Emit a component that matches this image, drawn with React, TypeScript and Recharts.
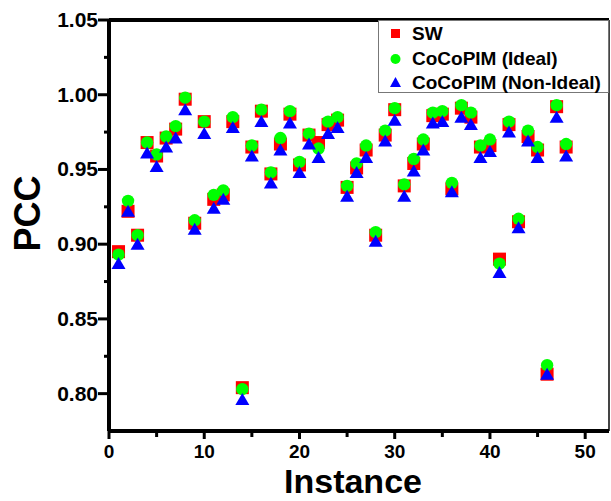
import {
  Legend,
  ReferenceLine,
  Scatter,
  ScatterChart,
  XAxis,
  YAxis,
} from "recharts";

const instances = [
  1, 2, 3, 4, 5, 6, 7, 8, 9, 10, 11, 12, 13, 14, 15, 16, 17, 18, 19, 20, 21, 22,
  23, 24, 25, 26, 27, 28, 29, 30, 31, 32, 33, 34, 35, 36, 37, 38, 39, 40, 41,
  42, 43, 44, 45, 46, 47, 48,
];

const swPcc = [
  0.895, 0.922, 0.906, 0.968, 0.959, 0.971, 0.977, 0.997, 0.914, 0.982, 0.93,
  0.933, 0.982, 0.804, 0.965, 0.989, 0.947, 0.967, 0.987, 0.953, 0.973, 0.968,
  0.98, 0.983, 0.938, 0.951, 0.963, 0.906, 0.973, 0.99, 0.939, 0.954, 0.967,
  0.986, 0.987, 0.937, 0.991, 0.985, 0.965, 0.966, 0.89, 0.98, 0.915, 0.972,
  0.963, 0.813, 0.992, 0.965,
];

const idealPcc = [
  0.893, 0.929, 0.906, 0.968, 0.96, 0.972, 0.979, 0.998, 0.916, 0.982, 0.933,
  0.936, 0.985, 0.803, 0.966, 0.99, 0.948, 0.971, 0.989, 0.955, 0.974, 0.964,
  0.982, 0.985, 0.939, 0.954, 0.966, 0.908, 0.976, 0.991, 0.94, 0.957, 0.97,
  0.988, 0.989, 0.941, 0.993, 0.988, 0.966, 0.97, 0.887, 0.982, 0.917, 0.976,
  0.965, 0.819, 0.993, 0.967,
];

const nonIdealPcc = [
  0.886, 0.921, 0.899, 0.96, 0.951, 0.964, 0.97, 0.989, 0.909, 0.973, 0.923,
  0.929, 0.977, 0.795, 0.958, 0.981, 0.94, 0.962, 0.98, 0.947, 0.966, 0.957,
  0.973, 0.977, 0.931, 0.947, 0.957, 0.901, 0.968, 0.982, 0.931, 0.948, 0.962,
  0.98, 0.981, 0.934, 0.984, 0.979, 0.957, 0.961, 0.88, 0.974, 0.91, 0.968,
  0.957, 0.812, 0.984, 0.958,
];

const xTicks = [0, 5, 10, 15, 20, 25, 30, 35, 40, 45, 50];
const yTicks = [0.8, 0.825, 0.85, 0.875, 0.9, 0.925, 0.95, 0.975, 1.0, 1.025, 1.05];

const FONT = "'Liberation Sans', Arial, sans-serif";

const toPoints = (vals: number[]) =>
  instances.map((x, i) => ({ x, y: vals[i] }));

const swData = toPoints(swPcc);
const idealData = toPoints(idealPcc);
const nonIdealData = toPoints(nonIdealPcc);

const Square = (props: any) => {
  const { cx, cy } = props;
  return <rect x={cx - 6.5} y={cy - 6.5} width={13} height={13} fill="#ff0000" />;
};

const Dot = (props: any) => {
  const { cx, cy } = props;
  return <circle cx={cx} cy={cy} r={6.2} fill="#00ff00" />;
};

const Tri = (props: any) => {
  const { cx, cy } = props;
  return (
    <path
      d={`M${cx},${cy - 8} L${cx + 7},${cy + 4} L${cx - 7},${cy + 4} Z`}
      fill="#0000ff"
    />
  );
};

const isMajor = (v: number) => Math.round(v * 1000) % 50 === 0;

const XTick = (props: any) => {
  const { x, y, payload } = props;
  const v = payload.value;
  const major = v % 10 === 0;
  return (
    <g>
      <line x1={x} y1={y} x2={x} y2={y + (major ? 8 : 6)} stroke="#000" strokeWidth={3} />
      {major && (
        <text
          x={x}
          y={y + 27}
          textAnchor="middle"
          fontFamily={FONT}
          fontWeight="bold"
          fontSize={19}
          fill="#000"
        >
          {v}
        </text>
      )}
    </g>
  );
};

const YTick = (props: any) => {
  const { x, y, payload } = props;
  const v = payload.value;
  const major = isMajor(v);
  return (
    <g>
      <line x1={x} y1={y} x2={x - (major ? 11 : 5)} y2={y} stroke="#000" strokeWidth={3} />
      {major && (
        <text
          x={x - 11}
          y={y + 7}
          textAnchor="end"
          fontFamily={FONT}
          fontWeight="bold"
          fontSize={21}
          fill="#000"
        >
          {v.toFixed(2)}
        </text>
      )}
    </g>
  );
};

const legendItems = [
  { label: "SW", kind: "square", color: "#ff0000" },
  { label: "CoCoPIM (Ideal)", kind: "circle", color: "#00ff00" },
  { label: "CoCoPIM (Non-Ideal)", kind: "triangle", color: "#0000ff" },
];

const renderLegend = () => (
  <div
    style={{
      border: "1.5px solid #777",
      background: "#fff",
      width: 231,
      height: 73,
      boxSizing: "border-box",
      paddingTop: 1,
    }}
  >
    {legendItems.map((it) => (
      <div
        key={it.label}
        style={{
          display: "flex",
          alignItems: "center",
          height: 24.5,
          fontFamily: FONT,
          fontWeight: "bold",
          fontSize: 19,
          color: "#000",
          whiteSpace: "nowrap",
        }}
      >
        <svg width={33} height={20} style={{ flex: "none" }}>
          {it.kind === "square" && <rect x={12} y={5} width={9} height={9} fill={it.color} />}
          {it.kind === "circle" && <circle cx={16.5} cy={10} r={5} fill={it.color} />}
          {it.kind === "triangle" && <path d="M16.5,4 L22,14 L11,14 Z" fill={it.color} />}
        </svg>
        <span>{it.label}</span>
      </div>
    ))}
  </div>
);

export default function App() {
  return (
    <div style={{ position: "absolute", left: 0, top: 0, background: "#fff" }}>
      <ScatterChart
        width={611}
        height={501}
        margin={{ top: 20, right: 2, left: 0, bottom: 0 }}
      >
        <XAxis
          type="number"
          dataKey="x"
          domain={[0, 52.5]}
          ticks={xTicks}
          interval={0}
          allowDataOverflow
          height={70}
          axisLine={{ stroke: "#000", strokeWidth: 4 }}
          tickLine={false}
          tickSize={0}
          tickMargin={0}
          tick={<XTick />}
          label={(p: any) => {
            const vb = p.viewBox;
            return (
              <text
                x={vb.x + vb.width / 2 - 6}
                y={vb.y + 62}
                textAnchor="middle"
                fontFamily={FONT}
                fontWeight="bold"
                fontSize={34}
                fill="#000"
              >
                Instance
              </text>
            );
          }}
        />
        <YAxis
          type="number"
          dataKey="y"
          domain={[0.775, 1.05]}
          ticks={yTicks}
          interval={0}
          allowDataOverflow
          width={109}
          axisLine={{ stroke: "#000", strokeWidth: 4 }}
          tickLine={false}
          tickSize={0}
          tickMargin={0}
          tick={<YTick />}
          label={(p: any) => {
            const vb = p.viewBox;
            const cx = vb.x + 27;
            const cy = vb.y + vb.height / 2 - 12;
            return (
              <text
                x={cx}
                y={cy}
                transform={`rotate(-90 ${cx} ${cy})`}
                textAnchor="middle"
                dominantBaseline="central"
                fontFamily={FONT}
                fontWeight="bold"
                fontSize={36}
                fill="#000"
              >
                PCC
              </text>
            );
          }}
        />
        <ReferenceLine y={1.05} stroke="#000" strokeWidth={4} />
        <ReferenceLine x={52.5} stroke="#444" strokeWidth={2} />
        <Legend
          layout="vertical"
          align="center"
          verticalAlign="middle"
          content={renderLegend}
          wrapperStyle={{ position: "absolute", left: 378, top: 20, width: 231, height: 73 }}
        />
        <Scatter name="SW" data={swData} shape={Square} isAnimationActive={false} />
        <Scatter name="CoCoPIM (Ideal)" data={idealData} shape={Dot} isAnimationActive={false} />
        <Scatter name="CoCoPIM (Non-Ideal)" data={nonIdealData} shape={Tri} isAnimationActive={false} />
      </ScatterChart>
    </div>
  );
}
